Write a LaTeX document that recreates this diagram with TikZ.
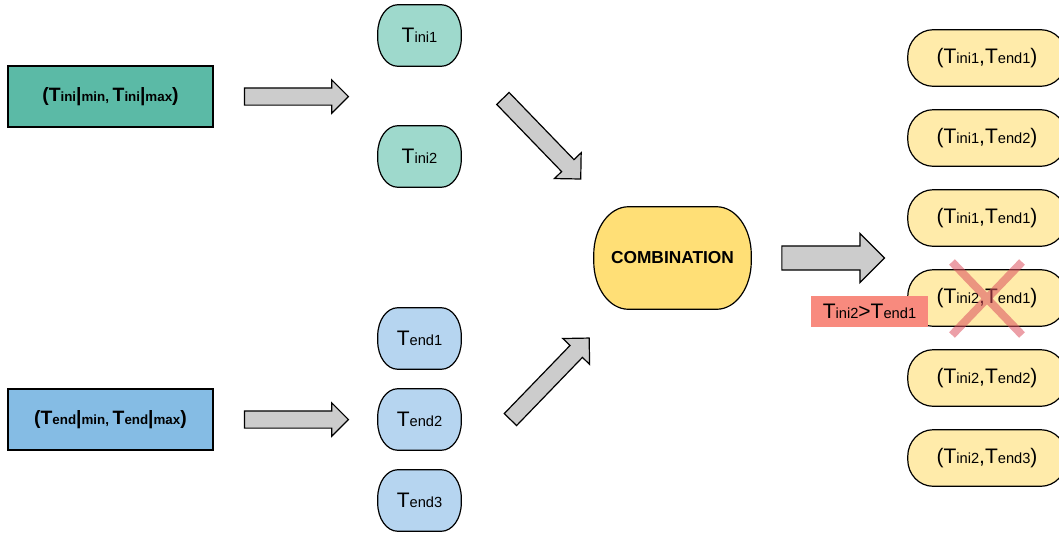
\documentclass[tikz,border=0pt]{standalone}
\usepackage{fontspec}
\setmainfont{Liberation Sans}
\usetikzlibrary{positioning}
\usetikzlibrary{shapes.arrows,backgrounds}
\definecolor{inibox}{RGB}{91,186,166}
\definecolor{endbox}{RGB}{133,188,228}
\definecolor{inifill}{RGB}{158,217,204}
\definecolor{endfill}{RGB}{182,213,240}
\definecolor{combfill}{RGB}{255,223,118}
\definecolor{pairfill}{RGB}{255,235,170}
\definecolor{condfill}{RGB}{248,138,126}
\definecolor{crosscol}{RGB}{220,80,95}
\definecolor{arrowgray}{RGB}{204,204,204}

\newcommand{\bigT}{\fontsize{15.75}{18}\selectfont}
\newcommand{\smallT}{\fontsize{11}{13}\selectfont}
\newcommand{\Tv}[1]{{\bigT T}{\smallT #1}}
\newcommand{\Lg}[1]{{\fontsize{14.5}{17}\selectfont #1}}
\newcommand{\Sm}[1]{{\fontsize{10}{12}\selectfont #1}}

% outline with elliptic corners round a node: node, x radius, y radius, fill
\newcommand{\capsule}[4]{%
  \filldraw[fill=#4, line width=0.9pt]
    ([xshift=#2]#1.north west) -- ([xshift=-#2]#1.north east)
    arc[start angle=90, end angle=0, x radius=#2, y radius=#3]
    -- ([yshift=#3]#1.south east)
    arc[start angle=0, end angle=-90, x radius=#2, y radius=#3]
    -- ([xshift=#2]#1.south west)
    arc[start angle=270, end angle=180, x radius=#2, y radius=#3]
    -- ([yshift=-#3]#1.north west)
    arc[start angle=180, end angle=90, x radius=#2, y radius=#3]
    -- cycle;
}

\begin{document}
\begin{tikzpicture}[x=0.75pt,y=-0.75pt,
  rangebox/.style = {draw, line width=1.2pt, minimum width=153.75pt, minimum height=45.75pt, inner sep=0pt, font=\bfseries},
  valnode/.style = {minimum width=62.25pt, minimum height=45.75pt, inner sep=0pt, font=\bigT},
  pairnode/.style = {valnode, minimum width=118.5pt, minimum height=42pt},
  fatarrow/.style = {single arrow, draw, line width=0.9pt, fill=arrowgray, inner xsep=0pt,
                     single arrow head indent=0pt, anchor=tail},
]
  \useasboundingbox (0,0) rectangle (1059,533);

  % ranges
  \node[rangebox, fill=inibox] (rini) at (110.5,96.5)
    {\Lg{(T}\Sm{ini}\Lg{|}\Sm{min, }\Lg{T}\Sm{ini}\Lg{|}\Sm{max}\Lg{)}};
  \node[rangebox, fill=endbox] (rend) at (110.5,419.5)
    {\Lg{(T}\Sm{end}\Lg{|}\Sm{min, }\Lg{T}\Sm{end}\Lg{|}\Sm{max}\Lg{)}};

  % sampled values
  \node[valnode] (tini1) at (419.5,35.5) {\Tv{ini1}};
  \node[valnode] (tini2) at (419.5,156.5) {\Tv{ini2}};
  \node[valnode] (tend1) at (419.5,338.5) {\Tv{end1}};
  \node[valnode] (tend2) at (419.5,419.5) {\Tv{end2}};
  \node[valnode] (tend3) at (419.5,500.5) {\Tv{end3}};

  % combination
  \node[valnode, minimum width=117.75pt, minimum height=76.5pt,
        font=\fontsize{13}{15}\selectfont\bfseries] (comb) at (672.5,258) {COMBINATION};

  % pairs
  \node[pairnode] (p1) at (987,58) {(\Tv{ini1},\Tv{end1})};
  \node[pairnode] (p2) at (987,138) {(\Tv{ini1},\Tv{end2})};
  \node[pairnode] (p3) at (987,218) {(\Tv{ini1},\Tv{end1})};
  \node[pairnode] (p4) at (987,298) {(\Tv{ini2},\Tv{end1})};
  \node[pairnode] (p5) at (987,378) {(\Tv{ini2},\Tv{end2})};
  \node[pairnode] (p6) at (987,458) {(\Tv{ini2},\Tv{end3})};

  \begin{scope}[on background layer]
    \capsule{tini1}{15pt}{21pt}{inifill}
    \capsule{tini2}{15pt}{21pt}{inifill}
    \capsule{tend1}{15pt}{21pt}{endfill}
    \capsule{tend2}{15pt}{21pt}{endfill}
    \capsule{tend3}{15pt}{21pt}{endfill}
    \capsule{comb}{26pt}{36pt}{combfill}
    \foreach \p in {p1,p2,p3,p4,p5,p6}{
      \capsule{\p}{19pt}{20pt}{pairfill}
    }
  \end{scope}

  % block arrows
  \node[fatarrow, inner ysep=6pt, single arrow head extend=6pt, minimum height=78pt]
    (a1) at ([xshift=22.5pt]rini.east) {};
  \node[fatarrow, inner ysep=6pt, single arrow head extend=6pt, minimum height=78pt]
    (a2) at ([xshift=22.5pt]rend.east) {};
  \node[fatarrow, inner ysep=6pt, single arrow head extend=7.5pt, minimum height=84pt, rotate=-46]
    (a3) at (502.5,98) {};
  \node[fatarrow, inner ysep=6pt, single arrow head extend=7.5pt, minimum height=85pt, rotate=46]
    (a4) at (510,420) {};
  \node[fatarrow, inner ysep=8.6pt, single arrow head extend=9.4pt, minimum height=77pt]
    (a5) at ([xshift=22.5pt]comb.east) {};

  % discarded pair
  \node[fill=condfill, minimum width=87.75pt, minimum height=23.25pt, inner sep=0pt, font=\bigT]
    (cond) at (869.5,311.5) {\Tv{ini2}>\Tv{end1}};
  \draw[crosscol, opacity=0.55, line width=6pt]
    ([shift={(-35,-36)}]p4.center) -- ([shift={(35,37)}]p4.center)
    ([shift={(35,-36)}]p4.center) -- ([shift={(-35,37)}]p4.center);

\end{tikzpicture}
\end{document}
